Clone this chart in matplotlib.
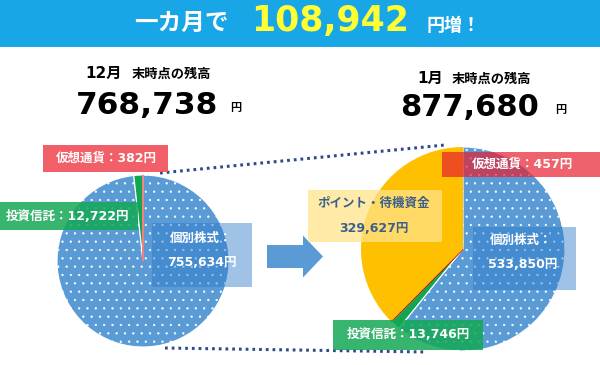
import matplotlib
import matplotlib.pyplot as plt
from matplotlib.patches import Rectangle, FancyArrow

matplotlib.use('Agg')

# balances at month end (yen)
dec_labels = ['個別株式', '投資信託', '仮想通貨']
dec_values = [755634, 12722, 382]
jan_labels = ['個別株式', '投資信託', '仮想通貨', 'ポイント・待機資金']
jan_values = [533850, 13746, 457, 329627]

BLUE = '#5b9bd5'
GREEN = '#12a650'
RED = '#e8303c'
YELLOW = '#ffc000'
JP = ['DejaVu Sans', 'Noto Sans CJK JP']

dec_total = sum(dec_values)
jan_total = sum(jan_values)

plt.rcParams['hatch.linewidth'] = 0.4

fig = plt.figure(figsize=(6, 3.65), dpi=100)
ax = fig.add_axes([0, 0, 1, 1])


def txt(x, y, s, size, color='black', ha='center', **kw):
    ax.text(x, y, s, fontsize=size, color=color, ha=ha, va='center',
            family=JP, fontweight='bold', zorder=10, **kw)


def box(x0, y0, x1, y1, color, alpha):
    ax.add_patch(Rectangle((x0, y0), x1 - x0, y1 - y0, facecolor=color,
                           edgecolor='none', alpha=alpha, zorder=5))


# y axis is inverted (pixel-like coords), so startangle=-90 is the top
# and counterclock=True runs clockwise on screen
wl, _ = ax.pie(dec_values, colors=[BLUE, GREEN, RED], center=(143, 261), radius=86,
               startangle=-90, counterclock=True,
               wedgeprops=dict(edgecolor='white', linewidth=0.8))
wr, _ = ax.pie(jan_values, colors=[BLUE, GREEN, '#c0101a', YELLOW], center=(463, 249),
               radius=102, startangle=-90, counterclock=True,
               wedgeprops=dict(edgecolor='white', linewidth=0.8))
for w in (wl[0], wr[0]):
    w.set_hatch('..')
wl[2].set_edgecolor('#f08080')
wr[2].set_edgecolor('#c0101a')
wr[3].set_linewidth(0)

ax.set_xlim(0, 600)
ax.set_ylim(365, 0)
ax.set_aspect('auto')
ax.axis('off')

# header band
ax.add_patch(Rectangle((0, 0), 600, 47, facecolor='#19a6e6', edgecolor='none', zorder=1))
txt(181, 23, '一カ月で', 17, color='white')
txt(330, 21, f'{jan_total - dec_total:,}', 25, color='#ffff33')
txt(454, 26, '円増！', 13, color='white')

# month titles
txt(85, 73, '12月', 11, ha='left')
txt(132, 74, '末時点の残高', 9.5, ha='left')
txt(147, 106, f'{dec_total:,}', 22.5)
txt(236, 108, '円', 8)
txt(417, 78, '1月', 11, ha='left')
txt(452, 79, '末時点の残高', 9.5, ha='left')
txt(470, 107, f'{jan_total:,}', 22)
txt(561, 110, '円', 8)

# dotted connectors
dots = dict(color='#2d4b8c', lw=2.2, linestyle=(0, (0.9, 1.3)), zorder=3)
ax.plot([160, 445], [173, 145], **dots)
ax.plot([165, 427], [348, 352], **dots)

# arrow
ax.add_patch(FancyArrow(267, 256.5, 56, 0, width=23, head_width=42, head_length=20,
                        length_includes_head=True, color=BLUE, lw=0, zorder=4))

# left labels
box(43, 145, 168, 172, '#f04e58', 0.9)
txt(106, 158, f'{dec_labels[2]}：{dec_values[2]:,}円', 9, color='white')
box(0, 202, 138, 230, '#14a855', 0.85)
txt(68, 217, f'{dec_labels[1]}：{dec_values[1]:,}円', 9, color='white')
box(152, 223, 252, 287, '#2a78c8', 0.45)
txt(201, 238, f'{dec_labels[0]}：', 9, color='white')
txt(202, 262, f'{dec_values[0]:,}円', 9, color='white')

# right labels
box(442, 152, 600, 177, '#e8202f', 0.7)
txt(522, 164, f'{jan_labels[2]}：{jan_values[2]:,}円', 9, color='white')
box(308, 190, 442, 242, '#ffe38a', 0.75)
txt(374, 203, jan_labels[3], 9, color='#3d5f8c')
txt(374, 228, f'{jan_values[3]:,}円', 9, color='#3d5f8c')
box(473, 227, 576, 290, '#2a78c8', 0.45)
txt(521, 240, f'{jan_labels[0]}：', 9, color='white')
txt(523, 265, f'{jan_values[0]:,}円', 9, color='white')
box(333, 320, 483, 350, '#14a855', 0.85)
txt(408, 334, f'{jan_labels[1]}：{jan_values[1]:,}円', 9, color='white')

fig.savefig('out.png', dpi=100)
